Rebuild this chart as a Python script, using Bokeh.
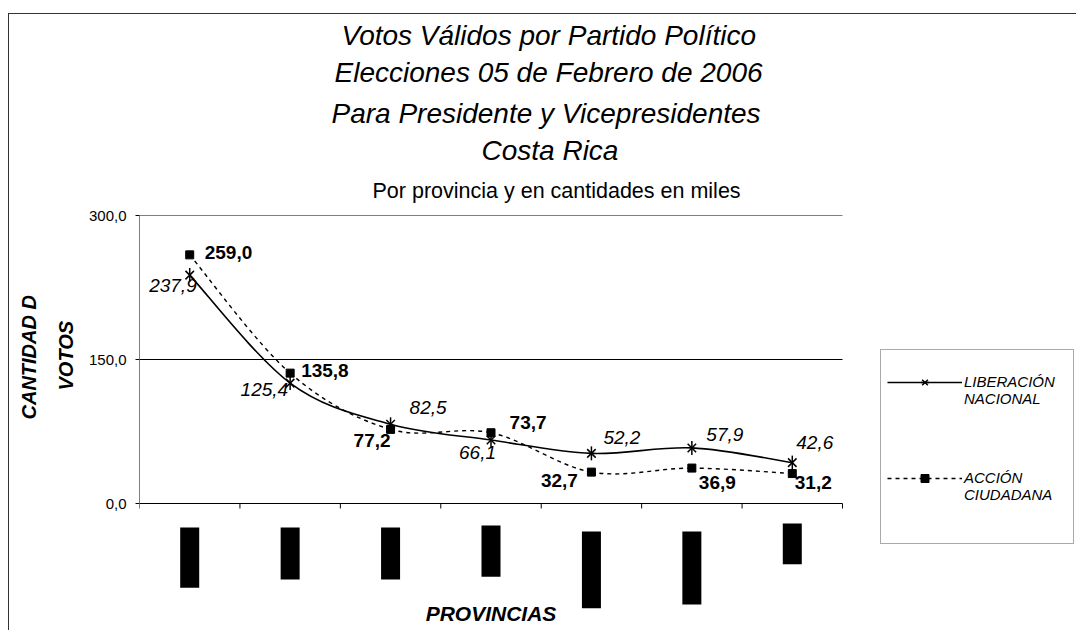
import math
from bokeh.plotting import figure
from bokeh.models import (Range1d, FixedTicker, Legend, LegendItem, Title, Label,
                          ColumnDataSource)
from bokeh.core.properties import value
from bokeh.embed import file_html
from bokeh.resources import INLINE

# ---------------- data ----------------
provincias = ["San José", "Alajuela", "Cartago", "Heredia",
              "Guanacaste", "Puntarenas", "Limón"]
liberacion = [237.9, 125.4, 82.5, 66.1, 52.2, 57.9, 42.6]
accion = [259.0, 135.8, 77.2, 73.7, 32.7, 36.9, 31.2]
y_ticks = [0, 150, 300]
y_tick_labels = ["0,0", "150,0", "300,0"]
series_names = ["LIBERACIÓN\nNACIONAL", "ACCIÓN\nCIUDADANA"]
title_lines = ["Votos Válidos por Partido Político",
               "Elecciones 05 de Febrero de 2006",
               "Para Presidente y Vicepresidentes",
               "Costa Rica"]
subtitle = "Por provincia y en cantidades en miles"
x_title = "PROVINCIAS"
y_title = ["CANTIDAD D", "VOTOS"]

# ---------------- layout ----------------
FONT = "Liberation Sans"
OX, OY = 10, 15            # canvas origin on the page (css margin + border)
W, H = 1068, 617
ML, MT = 140 - OX, 216 - OY
PW, PH = 703, 288          # size of the category plot area in px
NCAT = len(provincias)
YMAX = y_ticks[-1]
FWT, FHT = W - ML, H - MT  # full frame (includes legend / category area)
X_END = NCAT * FWT / PW
Y_START = -YMAX * (FHT - PH) / PH
BOTTOM = OY + MT + PH      # page y of value 0
FRAME_BOTTOM = OY + H      # page y of the frame bottom


def dy(py):
    return (BOTTOM - py) / PH * YMAX


def fmt(v):
    return f"{v:.1f}".replace(".", ",")


def bezier_segments(xv, yv):
    n = len(xv)
    d = dict(x0=[], y0=[], x1=[], y1=[], cx0=[], cy0=[], cx1=[], cy1=[])
    for i in range(n - 1):
        xm, ym = (xv[i - 1], yv[i - 1]) if i > 0 else (xv[i], yv[i])
        xp, yp = (xv[i + 2], yv[i + 2]) if i + 2 < n else (xv[i + 1], yv[i + 1])
        d["x0"].append(xv[i]); d["y0"].append(yv[i])
        d["x1"].append(xv[i + 1]); d["y1"].append(yv[i + 1])
        d["cx0"].append(xv[i] + (xv[i + 1] - xm) / 6)
        d["cy0"].append(yv[i] + (yv[i + 1] - ym) / 6)
        d["cx1"].append(xv[i + 1] - (xp - xv[i]) / 6)
        d["cy1"].append(yv[i + 1] - (yp - yv[i]) / 6)
    return d


xs = [i + 0.5 for i in range(NCAT)]
bounds_x = list(range(NCAT + 1))

p = figure(width=W, height=H, x_range=Range1d(0, X_END), y_range=Range1d(Y_START, YMAX),
           output_backend="svg", toolbar_location=None, x_axis_location=None,
           min_border_left=ML, min_border_right=0,
           min_border_top=MT, min_border_bottom=0)
p.styles = {"margin-left": "8px", "margin-top": "13px",
            "border-left": "1.5px solid #333333", "border-top": "1.5px solid #333333"}
p.outline_line_color = None
p.background_fill_color = "white"
p.border_fill_color = "white"
p.xgrid.visible = False
p.ygrid.visible = False

# y axis
ya = p.yaxis[0]
ya.bounds = (0, YMAX)
ya.ticker = FixedTicker(ticks=y_ticks)
ya.major_label_overrides = dict(zip(y_ticks, y_tick_labels))
ya.axis_line_color = "#808080"
ya.major_tick_line_color = "black"
ya.major_tick_out = 4
ya.major_tick_in = 0
ya.minor_tick_line_color = None
ya.major_label_standoff = 9
ya.major_label_text_font = FONT
ya.major_label_text_font_size = "15px"
ya.major_label_text_color = "black"

# y title: two rotated lines placed in the left panel (nearest first)
p.add_layout(Title(text=y_title[1], align="left", offset=FRAME_BOTTOM - 391, standoff=18,
                   text_font=FONT, text_font_size="20px", text_font_style="bold italic",
                   text_color="black"), "left")
p.add_layout(Title(text=y_title[0], align="left", offset=FRAME_BOTTOM - 420, standoff=8,
                   text_font=FONT, text_font_size="20px", text_font_style="bold italic",
                   text_color="black"), "left")

# horizontal value lines (gridlines + category axis line) limited to the category area
p.segment(x0=0, x1=NCAT, y0="y", y1="y", source=ColumnDataSource(dict(y=y_ticks)),
          line_color="black", line_width=1)
# category boundary ticks
p.ray(x="x", y=0, length=5, length_units="screen", angle=-math.pi / 2,
      source=ColumnDataSource(dict(x=bounds_x)), line_color="black", line_width=1)

# category labels (rendered as solid blocks, as in the reference)
block_tops = [526, 526, 526, 524, 530, 530, 522]
for xc, name, top in zip(xs, provincias, block_tops):
    p.add_layout(Label(x=xc, y=dy(top + 2), text=name, angle=-math.pi / 2,
                       text_align="left", text_baseline="middle",
                       text_font=FONT, text_font_size="13.5px", text_color="black",
                       background_fill_color="black", padding=2))
p.add_layout(Label(x=NCAT / 2, y=dy(614), text=x_title, text_align="center",
                   text_baseline="alphabetic", text_font=FONT, text_font_size="21px",
                   text_font_style="bold italic", text_color="black"))

# series
ln_seg = ColumnDataSource(bezier_segments(xs, liberacion))
ac_seg = ColumnDataSource(bezier_segments(xs, accion))
ln_curve = p.bezier("x0", "y0", "x1", "y1", "cx0", "cy0", "cx1", "cy1", source=ln_seg,
                    line_color="black", line_width=1.6)
ac_curve = p.bezier("x0", "y0", "x1", "y1", "cx0", "cy0", "cx1", "cy1", source=ac_seg,
                    line_color="black", line_width=1.4, line_dash="4 4")
ln_src = ColumnDataSource(dict(x=xs, y=liberacion))
ac_src = ColumnDataSource(dict(x=xs, y=accion))
ln_x = p.scatter("x", "y", source=ln_src, marker="x", size=12, line_color="black", line_width=1.5)
ln_v = p.scatter("x", "y", source=ln_src, marker="dash", angle=math.pi / 2, size=14,
                 line_color="black", line_width=1.5)
ac_sq = p.scatter("x", "y", source=ac_src, marker="square", size=8,
                  fill_color="black", line_color="black")

# data labels
ln_align = ["right", "right", "left", "right", "left", "left", "left"]
ln_xo = [7, -2, 19, 5, 12, 14.5, 4]
ln_yo = [10, 6.5, -17, 12.5, -16, -13.5, -20]
ac_align = ["left", "left", "right", "left", "right", "left", "left"]
ac_xo = [15, 11, 0, 18.6, -13.5, 7, 2.5]
ac_yo = [-2.7, -2.5, 11.6, -10, 8.5, 14.5, 9]

p.text("x", "y", text="t", x_offset="xo", y_offset="yo", text_align="al",
       source=ColumnDataSource(dict(x=xs, y=liberacion, t=[fmt(v) for v in liberacion],
                                    xo=ln_xo, yo=ln_yo, al=ln_align)),
       text_baseline="middle", text_font=value(FONT), text_font_size="19px",
       text_font_style="italic", text_color="black")
p.text("x", "y", text="t", x_offset="xo", y_offset="yo", text_align="al",
       source=ColumnDataSource(dict(x=xs, y=accion, t=[fmt(v) for v in accion],
                                    xo=ac_xo, yo=ac_yo, al=ac_align)),
       text_baseline="middle", text_font=value(FONT), text_font_size="19px",
       text_font_style="bold", text_color="black")

# titles (first added sits nearest the plot)
p.add_layout(Title(text=subtitle, align="left", offset=373 - 140, standoff=25,
                   text_font=FONT, text_font_size="21.5px", text_font_style="normal",
                   text_color="black"), "above")
title_left = [342, 335, 332, 482]
title_standoff = [3, 4, 12, -3]
for t, lx, so in reversed(list(zip(title_lines, title_left, title_standoff))):
    p.add_layout(Title(text=t, align="left", offset=lx - 140, standoff=so,
                       text_font=FONT, text_font_size="28px", text_font_style="italic",
                       text_color="black"), "above")

# legend (blank lines keep each marker level with the first line of its label)
leg_labels = ["\n" + series_names[0], "\n\n\n" + series_names[1] + "\n\n\n"]
legend = Legend(items=[LegendItem(label=leg_labels[0], renderers=[ln_curve, ln_x, ln_v]),
                       LegendItem(label=leg_labels[1], renderers=[ac_curve, ac_sq])],
                location=(881 - (OX + ML), FRAME_BOTTOM - 545), margin=0, padding=6,
                spacing=11, glyph_width=75, glyph_height=20, label_standoff=2,
                label_width=103, label_height=20,
                label_text_font=FONT, label_text_font_size="15px",
                label_text_font_style="italic", label_text_color="black",
                border_line_color="#555555", border_line_width=1,
                background_fill_color="white", background_fill_alpha=1)
p.add_layout(legend)

open("out.html", "w").write(file_html(p, INLINE))
